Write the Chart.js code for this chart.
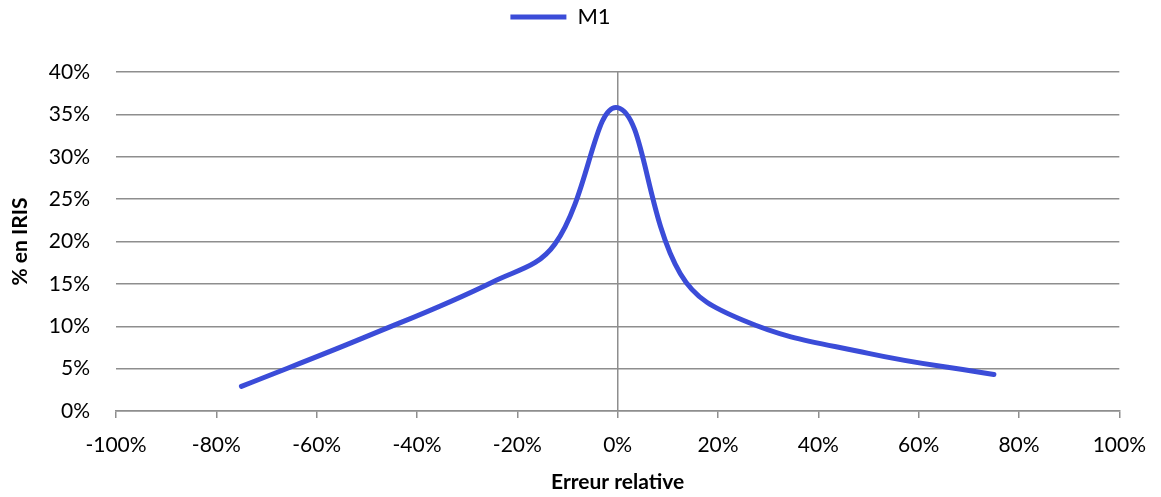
<!DOCTYPE html>
<html>
<head>
<meta charset="utf-8">
<script src="https://cdn.jsdelivr.net/npm/chart.js@4"></script>
<style>
  html, body { margin: 0; padding: 0; background: #fff; }
  #wrap { width: 1161px; height: 497px; }
</style>
</head>
<body>
<div id="wrap"><canvas id="chart" width="1161" height="497"></canvas></div>
<script>
/* ── Data ─────────────────────────────────────── */
const errRel = [-75, -50, -25, -12.5, 0, 12.5, 25, 50, 75];   // erreur relative (%)
const m1 = [2.9, 8.8, 15.2, 19.7, 35.8, 16.2, 10.7, 6.8, 4.3]; // % en IRIS
const xTicks = [-100, -80, -60, -40, -20, 0, 20, 40, 60, 80, 100];
const yTicks = [0, 5, 10, 15, 20, 25, 30, 35, 40];

const GRID = '#8e8e8e';
const BLUE = '#3b4cd8';
const FONT = 'Lato, "Open Sans", sans-serif';

// extra room between legend and plot area
const legendGap = {
  id: 'legendGap',
  afterInit(chart) {
    const fit = chart.legend.fit;
    chart.legend.fit = function () { fit.call(this); this.height += 34; };
  }
};

/* ── Chart ────────────────────────────────────── */
const ctx = document.getElementById('chart').getContext('2d');
new Chart(ctx, {
  type: 'line',
  data: {
    datasets: [{
      label: 'M1',
      data: errRel.map((x, i) => ({ x, y: m1[i] })),
      borderColor: BLUE,
      backgroundColor: BLUE,
      borderWidth: 5,
      borderCapStyle: 'round',
      pointRadius: 0,
      tension: 0.4,
      fill: false
    }]
  },
  options: {
    responsive: false,
    animation: false,
    layout: { padding: { top: 0, right: 40, left: 0, bottom: 0 } },
    plugins: {
      legend: {
        position: 'top',
        labels: {
          usePointStyle: true,
          pointStyle: 'line',
          pointStyleWidth: 56,
          boxHeight: 5,
          padding: 6,
          color: '#000',
          font: { family: FONT, size: 22 }
        }
      },
      tooltip: { enabled: false }
    },
    scales: {
      x: {
        type: 'linear',
        min: -100, max: 100,
        afterBuildTicks: s => { s.ticks = xTicks.map(v => ({ value: v })); },
        afterFit: s => { s.height = 86; },
        border: { display: true, color: GRID, width: 1.5 },
        grid: {
          color: c => (c.tick && c.tick.value === 0) ? GRID : 'rgba(0,0,0,0)',
          lineWidth: 1.5,
          tickColor: GRID,
          tickLength: 7,
          drawOnChartArea: true
        },
        ticks: {
          color: '#000',
          padding: 15,
          maxRotation: 0,
          font: { family: FONT, size: 21 },
          callback: v => v + '%'
        },
        title: {
          display: true,
          text: 'Erreur relative',
          color: '#000',
          font: { family: FONT, size: 21, weight: 'bold' },
          padding: { top: 6, bottom: 2 }
        }
      },
      y: {
        min: 0, max: 40,
        afterBuildTicks: s => { s.ticks = yTicks.map(v => ({ value: v })); },
        afterFit: s => { s.width = 116; },
        border: { display: false },
        grid: { color: GRID, lineWidth: 1.5, drawTicks: false },
        ticks: {
          color: '#000',
          padding: 26,
          font: { family: FONT, size: 21 },
          callback: v => v + '%'
        },
        title: {
          display: true,
          text: '% en IRIS',
          color: '#000',
          font: { family: FONT, size: 21, weight: 'bold' },
          padding: { top: 8, bottom: 0 }
        }
      }
    }
  },
  plugins: [legendGap]
});
</script>
</body>
</html>
